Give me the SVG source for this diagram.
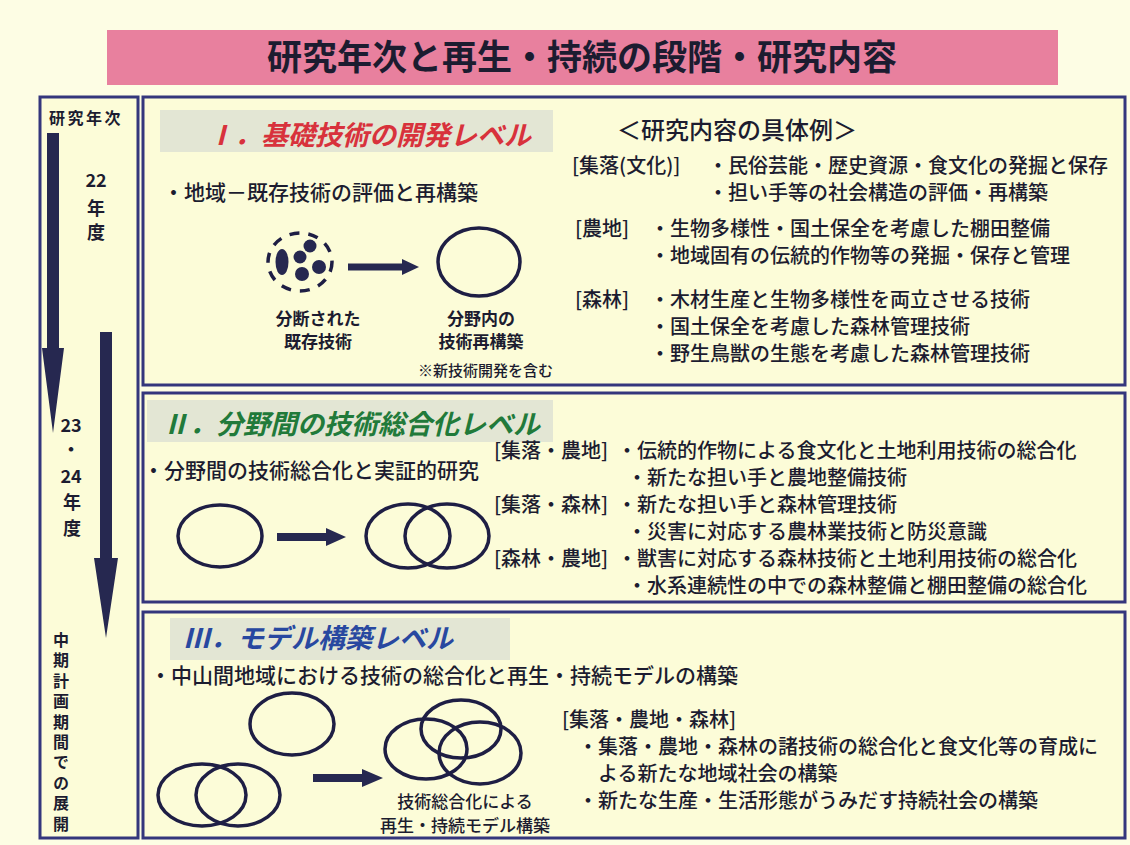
<svg xmlns="http://www.w3.org/2000/svg" width="1130" height="845" viewBox="0 0 1130 845">
<style>
.t{font-family:"Noto Sans CJK JP","Noto Sans CJK SC",sans-serif;fill:#1c1c30;font-size:20px;font-weight:500}
.b{font-weight:bold}
.box{fill:#fcfcd8;stroke:#34367c;stroke-width:3}
.band{fill:#e3e6d4}
.h{font-family:"Noto Sans CJK JP",sans-serif;font-style:italic;font-weight:bold;font-size:27px}
.ring{fill:none;stroke:#1e1e44;stroke-width:3.5}
.arr{fill:#262850}
.lab{font-size:17px;font-weight:bold;text-anchor:middle}
.yr{font-size:18px;font-weight:bold;text-anchor:middle}
.f21{font-size:21px}
</style>
<rect x="0" y="0" width="1130" height="845" fill="#fdfde4"/>

<g id="title">
<rect x="107" y="30" width="951" height="55" fill="#e8809e"/>
<text class="t b" x="582" y="70" style="font-size:35px;font-weight:bold" text-anchor="middle" fill="#1e1e50">研究年次と再生・持続の段階・研究内容</text>
</g>

<g id="timeline">
<rect class="box" x="40" y="97" width="98" height="741"/>
<text class="t b" x="86" y="124" style="font-size:16px;letter-spacing:2.5px;font-weight:bold" text-anchor="middle">研究年次</text>
<text class="t yr" x="96" y="187">22</text>
<text class="t yr" x="96" y="215">年</text>
<text class="t yr" x="96" y="239">度</text>
<text class="t yr" x="71" y="432">23</text>
<text class="t yr" x="71" y="456">・</text>
<text class="t yr" x="71" y="483">24</text>
<text class="t yr" x="72" y="509">年</text>
<text class="t yr" x="72" y="535">度</text>
<text class="t b" x="61" y="632" writing-mode="tb" style="font-size:16px;letter-spacing:4.4px;writing-mode:vertical-rl;font-weight:bold">中期計画期間での展開</text>
</g>

<g id="level1">
<rect class="box" x="143" y="97" width="982" height="288"/>
<rect class="band" x="160" y="110" width="393" height="42"/>
<text class="h" x="207" y="145" fill="#d8323c">Ⅰ．基礎技術の開発レベル</text>
<text class="t f21" x="163" y="200">・地域－既存技術の評価と再構築</text>
<g id="fragmented">
<ellipse class="ring" cx="300" cy="262" rx="32" ry="29" stroke-dasharray="10 9"/>
<g fill="#262850">
<ellipse cx="282" cy="262" rx="6.5" ry="13"/>
<circle cx="310" cy="246" r="6.5"/>
<circle cx="300" cy="257" r="6.5"/>
<circle cx="319" cy="267" r="7"/>
<circle cx="302" cy="274" r="7"/>
</g>
</g>
<ellipse class="ring" cx="479" cy="262" rx="41" ry="34"/>
<text class="t lab" x="318" y="325">分断された</text>
<text class="t lab" x="318" y="348">既存技術</text>
<text class="t lab" x="481" y="325">分野内の</text>
<text class="t lab" x="481" y="348">技術再構築</text>
<text class="t" x="418" y="376" style="font-size:15px">※新技術開発を含む</text>
<text class="t" x="617" y="139" style="font-size:24px">＜研究内容の具体例＞</text>
<text class="t" x="572" y="173">[集落(文化)]</text>
<text class="t" x="708" y="173">・民俗芸能・歴史資源・食文化の発掘と保存</text>
<text class="t" x="708" y="200">・担い手等の社会構造の評価・再構築</text>
<text class="t" x="575" y="236">[農地]</text>
<text class="t" x="650" y="236">・生物多様性・国土保全を考慮した棚田整備</text>
<text class="t" x="650" y="263">・地域固有の伝統的作物等の発掘・保存と管理</text>
<text class="t" x="575" y="307">[森林]</text>
<text class="t" x="650" y="307">・木材生産と生物多様性を両立させる技術</text>
<text class="t" x="650" y="334">・国土保全を考慮した森林管理技術</text>
<text class="t" x="650" y="361">・野生鳥獣の生態を考慮した森林管理技術</text>
</g>

<g id="level2">
<rect class="box" x="143" y="393" width="982" height="209"/>
<rect class="band" x="147" y="400" width="406" height="42"/>
<text class="h" x="162" y="434" fill="#217a3a">Ⅱ．分野間の技術総合化レベル</text>
<text class="t f21" x="143" y="478">・分野間の技術総合化と実証的研究</text>
<ellipse class="ring" cx="220" cy="536" rx="42" ry="31"/>
<ellipse class="ring" cx="408" cy="536" rx="42" ry="32"/>
<ellipse class="ring" cx="447" cy="536" rx="42" ry="32"/>
<text class="t" x="494" y="458">[集落・農地]</text>
<text class="t" x="617" y="458">・伝統的作物による食文化と土地利用技術の総合化</text>
<text class="t" x="627" y="485">・新たな担い手と農地整備技術</text>
<text class="t" x="494" y="512">[集落・森林]</text>
<text class="t" x="617" y="512">・新たな担い手と森林管理技術</text>
<text class="t" x="627" y="539">・災害に対応する農林業技術と防災意識</text>
<text class="t" x="494" y="566">[森林・農地]</text>
<text class="t" x="617" y="566">・獣害に対応する森林技術と土地利用技術の総合化</text>
<text class="t" x="627" y="593">・水系連続性の中での森林整備と棚田整備の総合化</text>
</g>

<g id="level3">
<rect class="box" x="143" y="612" width="982" height="226"/>
<rect class="band" x="170" y="618" width="340" height="42"/>
<text class="h" x="183" y="648" fill="#2848a0">Ⅲ．モデル構築レベル</text>
<text class="t f21" x="150" y="683">・中山間地域における技術の総合化と再生・持続モデルの構築</text>
<ellipse class="ring" cx="292" cy="724" rx="42" ry="31"/>
<ellipse class="ring" cx="202" cy="795" rx="44" ry="31"/>
<ellipse class="ring" cx="238" cy="795" rx="42" ry="31"/>
<ellipse class="ring" cx="426" cy="749" rx="41" ry="30"/>
<ellipse class="ring" cx="461" cy="729" rx="40" ry="29"/>
<ellipse class="ring" cx="480" cy="753" rx="41" ry="31"/>
<text class="t" x="465" y="808" style="font-size:17px" text-anchor="middle">技術総合化による</text>
<text class="t" x="465" y="832" style="font-size:17px" text-anchor="middle">再生・持続モデル構築</text>
<text class="t" x="562" y="727">[集落・農地・森林]</text>
<text class="t" x="578" y="754">・集落・農地・森林の諸技術の総合化と食文化等の育成に</text>
<text class="t" x="598" y="781">よる新たな地域社会の構築</text>
<text class="t" x="578" y="808">・新たな生産・生活形態がうみだす持続社会の構築</text>
</g>

<g id="connectors">
<polygon class="arr" points="47,133 59,133 59,348 64,348 53,433 42,348 47,348"/>
<polygon class="arr" points="100,332 112,332 112,558 118,558 106,638 94,558 100,558"/>
<polygon class="arr" points="348,263.5 402,263.5 402,259 419,267 402,275 402,270.5 348,270.5"/>
<polygon class="arr" points="277,533 326,533 326,528 346,537 326,546 326,541 277,541"/>
<polygon class="arr" points="313,774 362,774 362,769 383,778 362,787 362,782 313,782"/>
</g>
</svg>
